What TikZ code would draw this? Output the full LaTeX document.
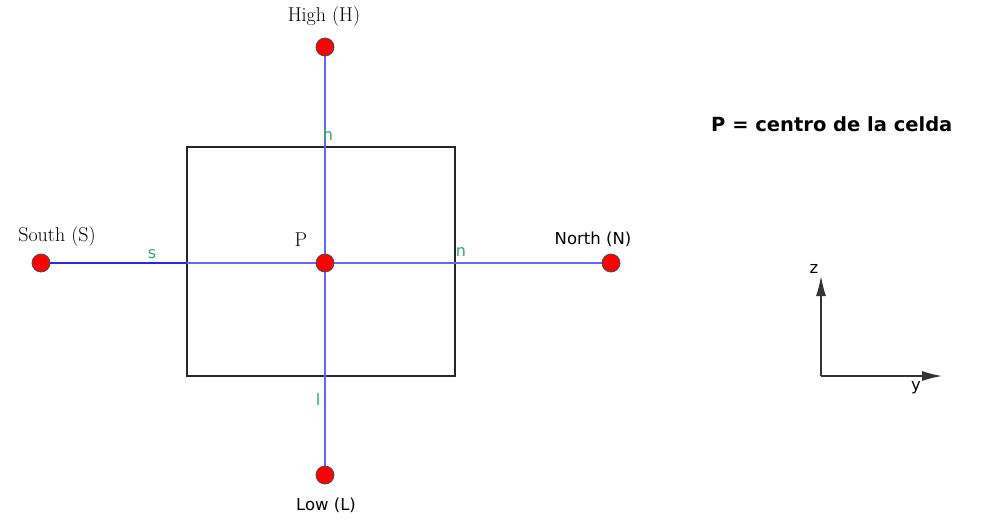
\documentclass[tikz,border=0pt]{standalone}
\usepackage{fontspec}
\setsansfont{DejaVu Sans}
\usetikzlibrary{arrows.meta}
\definecolor{lineblue}{RGB}{100,100,255}
\definecolor{darkblue}{RGB}{40,40,235}
\definecolor{lblgreen}{RGB}{60,160,110}
\tikzset{
  pt/.style={circle,fill=red,draw=black!70,line width=0.8pt,minimum size=18pt,inner sep=0pt},
  conn/.style={draw=lineblue,line width=2.2pt},
  serlbl/.style={font=\fontsize{20}{20}\selectfont,inner sep=0pt},
  sanlbl/.style={font=\sffamily\fontsize{16.5}{17}\selectfont,inner sep=0pt},
  grn/.style={font=\sffamily\fontsize{16}{16}\selectfont,text=lblgreen,inner sep=0pt},
  axis/.style={draw=black!80,line width=1.4pt,-{Latex[length=20pt,width=10pt]}}
}
\begin{document}
\begin{tikzpicture}[x=1pt,y=-1pt]
\useasboundingbox (0,0) rectangle (988,523);
\draw[black!85,line width=1.4pt] (187,147) rectangle (455,376);
\coordinate (hp) at (325,47);
\coordinate (lp) at (325,475);
\coordinate (sp) at (41,263);
\coordinate (np) at (611,263);
\coordinate (pp) at (325,263);
\coordinate (bl) at (187,263);
\draw[draw=darkblue,line width=1.8pt] (sp) -- (bl);
\draw[conn] (bl) -- (np);
\draw[conn] (hp) -- (lp);
\node[pt] (H) at (hp) {};
\node[pt] (L) at (lp) {};
\node[pt] (S) at (sp) {};
\node[pt] (N) at (np) {};
\node[pt] (P) at (pp) {};
\node[serlbl] (Hl) at (324,17) {High (H)};
\node[serlbl] (Sl) at (57,237) {South (S)};
\node[serlbl] (Pl) at (301,240) {P};
\node[sanlbl] (Nl) at (593,239) {North (N)};
\node[sanlbl] (Ll) at (326,505) {Low (L)};
\node[grn] (hl) at (328,134) {h};
\node[grn] (sl) at (152,254) {s};
\node[grn] (nl) at (461,252) {n};
\node[grn] (ll) at (318,399) {l};
\node[font=\sffamily\bfseries\fontsize{19.5}{20}\selectfont,anchor=west,inner sep=0pt] (title) at (711,124) {P = centro de la celda};
\coordinate (o) at (821,376);
\coordinate (zt) at (821,276);
\coordinate (yt) at (942,376);
\draw[axis] (o) -- (zt);
\draw[axis] (o) -- (yt);
\node[sanlbl] (zl) at (814,269) {z};
\node[sanlbl] (yl) at (916,388) {y};
\end{tikzpicture}
\end{document}
